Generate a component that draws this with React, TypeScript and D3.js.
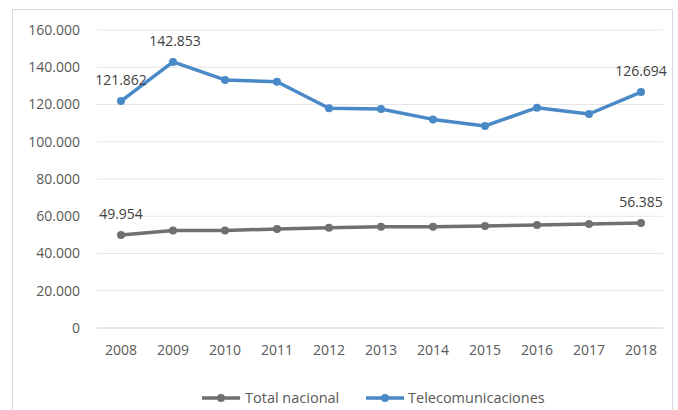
import React from "react";
import * as d3 from "d3";

const years = ["2008","2009","2010","2011","2012","2013","2014","2015","2016","2017","2018"];
const totalNacional = [49954, 52300, 52300, 53200, 53800, 54300, 54400, 54800, 55300, 55800, 56385];
const telecomunicaciones = [121862, 142853, 133200, 132200, 118000, 117600, 112000, 108500, 118300, 114900, 126694];
const yTicks = [0, 20000, 40000, 60000, 80000, 100000, 120000, 140000, 160000];
const labelIdx = [0, 1, 10];
const totalLabelIdx = [0, 10];

const fmt = (v: number) => v === 0 ? "0" : d3.format(",")(v).replace(/,/g, ".");

export default function App() {
  const W = 678, H = 410;
  const x = d3.scalePoint<string>().domain(years).range([121, 641]);
  const y = d3.scaleLinear().domain([0, 160000]).range([328, 30]);
  const line = d3.line<number>().x((_, i) => x(years[i])!).y(d => y(d));
  const font = "'Open Sans', 'Liberation Sans', sans-serif";
  const textCol = "#595959";
  const blue = "#4a89c8";
  const gray = "#707070";
  const series = [
    { name: "Total nacional", data: totalNacional, color: gray, labels: totalLabelIdx },
    { name: "Telecomunicaciones", data: telecomunicaciones, color: blue, labels: labelIdx },
  ];
  return (
    <svg width={W} height={H} style={{ position: "absolute", left: 0, top: 0 }} fontFamily={font}>
      <rect x={0} y={0} width={W} height={H} fill="#fff" />
      <rect x={12.5} y={9.5} width={660} height={420} fill="none" stroke="#d9d9d9" strokeWidth={1} />
      {yTicks.map(t => (
        <g key={t}>
          <line x1={97} x2={663} y1={y(t)} y2={y(t)} stroke={t === 0 ? "#d0d0d0" : "#e6e6e6"} strokeWidth={1} />
          <text x={80} y={y(t)} dy="0.35em" textAnchor="end" fontSize={14} fill={textCol}>{fmt(t)}</text>
        </g>
      ))}
      {years.map(yr => (
        <text key={yr} x={x(yr)} y={350} dy="0.35em" textAnchor="middle" fontSize={14} fill={textCol}>{yr}</text>
      ))}
      {series.map(s => (
        <g key={s.name}>
          <path d={line(s.data) || ""} fill="none" stroke={s.color} strokeWidth={3.5} strokeLinejoin="round" />
          {s.data.map((v, i) => (
            <circle key={i} cx={x(years[i])} cy={y(v)} r={4} fill={s.color} />
          ))}
          {s.labels.map(i => (
            <text key={"l" + i} x={x(years[i])! + (i === 1 ? 2 : 0)} y={y(s.data[i]) - 21} dy="0.35em" textAnchor="middle" fontSize={14} fill="#404040">{fmt(s.data[i])}</text>
          ))}
        </g>
      ))}
      <g>
        <line x1={202} x2={240} y1={398} y2={398} stroke={gray} strokeWidth={3.5} />
        <circle cx={221} cy={398} r={4} fill={gray} />
        <text x={245} y={398} dy="0.35em" fontSize={14.5} fill={textCol}>Total nacional</text>
        <line x1={366} x2={404} y1={398} y2={398} stroke={blue} strokeWidth={3.5} />
        <circle cx={385} cy={398} r={4} fill={blue} />
        <text x={408} y={398} dy="0.35em" fontSize={14.5} fill={textCol}>Telecomunicaciones</text>
      </g>
    </svg>
  );
}
